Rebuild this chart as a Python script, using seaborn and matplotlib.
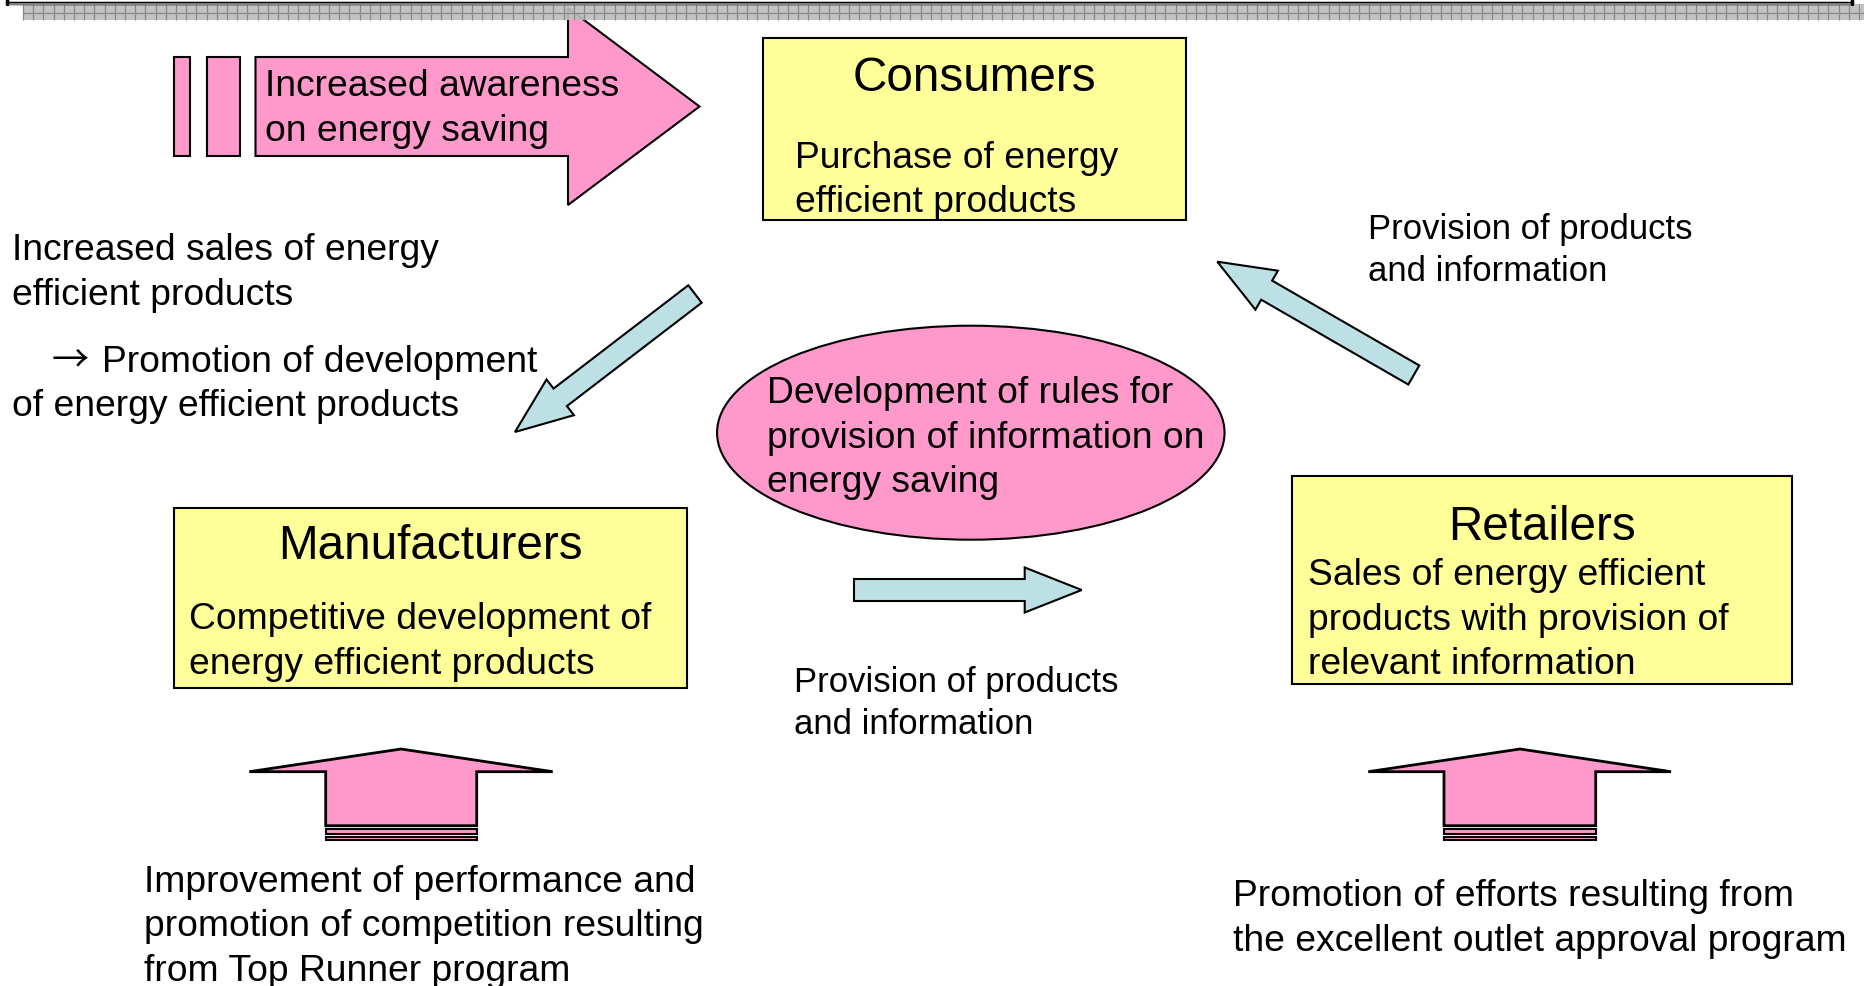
import matplotlib
matplotlib.use("Agg")
import numpy as np
import matplotlib.pyplot as plt
import seaborn as sns
from matplotlib.patches import Rectangle, Ellipse, Polygon, FancyArrow

# Texts of the diagram
awareness_lines = ["Increased awareness", "on energy saving"]
consumers_title = "Consumers"
consumers_lines = ["Purchase of energy", "efficient products"]
manufacturers_title = "Manufacturers"
manufacturers_lines = ["Competitive development of", "energy efficient products"]
retailers_title = "Retailers"
retailers_lines = ["Sales of energy efficient", "products with provision of", "relevant information"]
rules_lines = ["Development of rules for", "provision of information on", "energy saving"]
sales_lines = ["Increased sales of energy", "efficient products"]
promotion_arrow = "\u2192"
promotion_lines = ["Promotion of development", "of energy efficient products"]
provision_lines = ["Provision of products", "and information"]
top_runner_lines = ["Improvement of performance and",
                    "promotion of competition resulting",
                    "from Top Runner program"]
outlet_lines = ["Promotion of efforts resulting from",
                "the excellent outlet approval program"]

PINK = "#FF99CC"
YELLOW = "#FFFF99"
BLUE = "#BCE0E3"

sns.set_theme(style="white")
plt.rcParams['font.family'] = ['Liberation Sans', 'DejaVu Sans']
plt.rcParams['text.color'] = 'black'

W, H = 1864, 986
fig = plt.figure(figsize=(W / 100, H / 100), dpi=100)
ax = fig.add_axes([0, 0, 1, 1])
ax.set_xlim(0, W)
ax.set_ylim(H, 0)
ax.axis("off")

MAIN, TITLE, SMALL = 26.8, 34.3, 24.9


def put_lines(x, y0, dy, lines, size, ha="left", **kw):
    # y0 = visual centre of first line, converted to baseline
    off = 0.36 * size * 100 / 72
    for i, s in enumerate(lines):
        ax.text(x, y0 + i * dy + off, s, fontsize=size, ha=ha, va="baseline",
                color="black", zorder=10, **kw)


def box(x0, y0, x1, y1):
    ax.add_patch(Rectangle((x0, y0), x1 - x0, y1 - y0, facecolor=YELLOW,
                           edgecolor="black", lw=1.5, zorder=3))


def blue_arrow(tail, tip):
    ax.add_patch(FancyArrow(tail[0], tail[1], tip[0] - tail[0], tip[1] - tail[1],
                            width=22, head_width=45, head_length=57,
                            length_includes_head=True, facecolor=BLUE,
                            edgecolor="black", lw=1.5, zorder=4))


def up_arrow(xl, xr, x_wl, x_wr, apex):
    pts = [(xl, 825.7), (xl, 771.7), (x_wl, 771.7), (apex, 749), (x_wr, 771.7),
           (xr, 771.7), (xr, 825.7)]
    ax.add_patch(Polygon(pts, closed=True, facecolor=PINK, edgecolor="black",
                         lw=2, joinstyle="miter", zorder=4))
    for y0, y1 in [(828.5, 834), (836.5, 840)]:
        ax.add_patch(Rectangle((xl, y0), xr - xl, y1 - y0, facecolor=PINK,
                               edgecolor="black", lw=1.5, zorder=4))


# top banner strip (grey grid band under a black frame line)
ax.add_patch(Rectangle((23, 4), W - 23, 16, facecolor="#bdbdbd", edgecolor="none",
                       alpha=0.92, zorder=6))
ax.vlines(np.arange(23, W, 10.2), 4, 20, color="#888888", lw=0.9, zorder=6.5)
ax.hlines(12.5, 23, W, color="#888888", lw=0.9, zorder=6.5)
ax.plot([7, 1852], [2.5, 2.5], color="black", lw=2.5, zorder=7)
ax.plot([7, 1852], [4.2, 4.2], color="#9a9a9a", lw=1.2, zorder=7)
ax.plot([7, 7], [0, 3.5], color="black", lw=2.5, zorder=7)
ax.plot([1852, 1852], [0, 3.5], color="black", lw=2.5, zorder=7)

# striped pink arrow (awareness)
for x0, x1 in [(173.5, 190), (207, 240)]:
    ax.add_patch(Rectangle((x0, 57), x1 - x0, 99, facecolor=PINK,
                           edgecolor="black", lw=1.5, zorder=4))
ax.add_patch(Polygon([(255.5, 57), (568, 57), (568, 8), (699.5, 106.5), (568, 205),
                      (568, 156), (255.5, 156)], closed=True, facecolor=PINK,
                     edgecolor="black", lw=1.5, zorder=4))
put_lines(265, 83, 45, awareness_lines, MAIN)

# boxes
box(763, 38, 1186, 220)
put_lines(974.5, 74, 0, [consumers_title], TITLE, ha="center")
put_lines(795, 155, 44, consumers_lines, MAIN)

box(173.5, 507.6, 687, 688)
put_lines(430, 542, 0, [manufacturers_title], TITLE, ha="center")
put_lines(189, 616, 45, manufacturers_lines, MAIN)

box(1292, 475.5, 1791.5, 683.6)
put_lines(1542, 523, 0, [retailers_title], TITLE, ha="center")
put_lines(1308, 572, 44.5, retailers_lines, MAIN)

# central ellipse
ax.add_patch(Ellipse((970.8, 432.7), 507.5, 214, facecolor=PINK,
                     edgecolor="black", lw=1.5, zorder=3))
put_lines(767, 390, 44.5, rules_lines, MAIN)

# left texts
put_lines(12, 247, 45, sales_lines, MAIN)
put_lines(52, 359, 44, [promotion_arrow], MAIN,
          family=['Noto Sans CJK JP', 'DejaVu Sans'])
put_lines(102, 359, 44, promotion_lines[:1], MAIN)
put_lines(12, 403, 44, promotion_lines[1:], MAIN)

# blue arrows
blue_arrow((695, 294), (515, 432))
blue_arrow((1413.8, 375), (1217.3, 261.7))
blue_arrow((854, 590), (1081.7, 590))

put_lines(794, 680, 41.6, provision_lines, SMALL)
put_lines(1368, 227, 41.6, provision_lines, SMALL)

# bottom up arrows
up_arrow(325.7, 476.7, 249.3, 552.7, 401)
up_arrow(1444, 1595.7, 1368.3, 1671, 1520)

put_lines(144, 878.5, 44.5, top_runner_lines, MAIN)
put_lines(1233, 893, 45, outlet_lines, MAIN)

fig.savefig("out.png", dpi=100)
